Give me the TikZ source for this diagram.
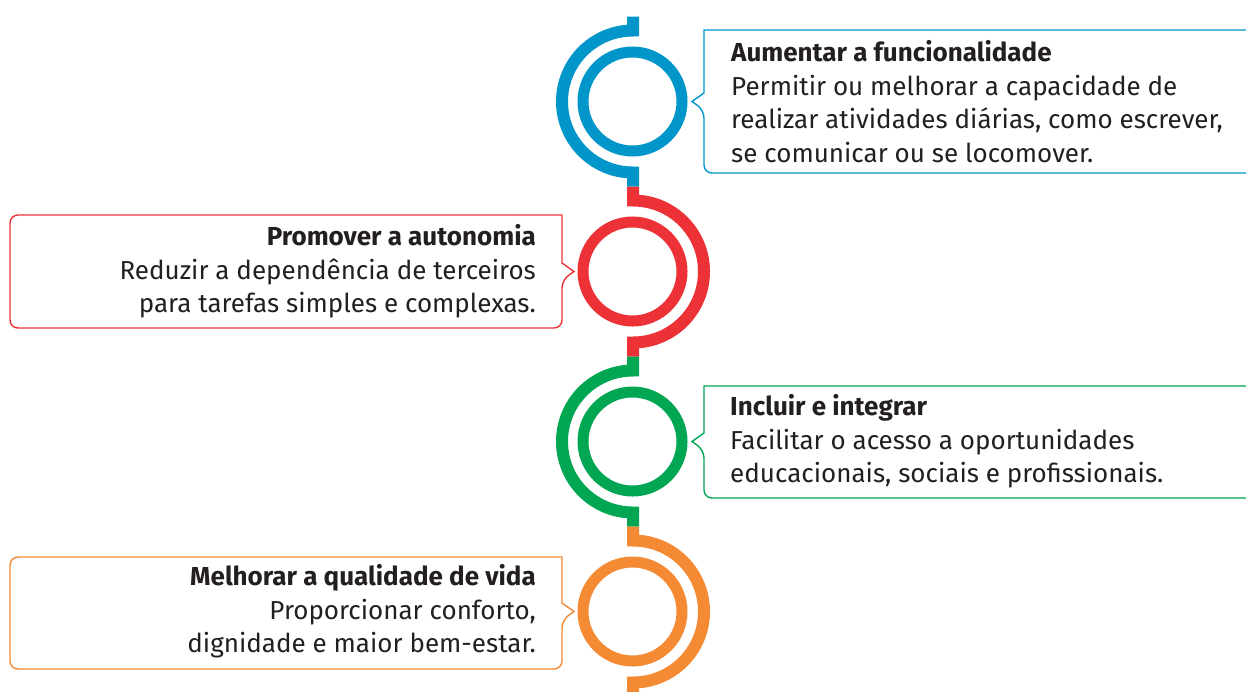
\documentclass[tikz,border=0pt]{standalone}
\usepackage{fontspec}
\setmainfont{Fira Sans}
\definecolor{azul}{HTML}{0096C9}
\definecolor{vermelho}{HTML}{ED3237}
\definecolor{verde}{HTML}{00A651}
\definecolor{laranja}{HTML}{F58A34}
\definecolor{texto}{HTML}{231F20}
\tikzset{
  ring/.style={line width=11pt},
  halfring/.style={line width=12pt},
  balloon/.style={line width=1.4pt},
  txt/.style={inner sep=0pt, text=texto, font=\fontsize{26}{33.5}\selectfont},
}
\begin{document}
\begin{tikzpicture}[x=1pt,y=-1pt]
\useasboundingbox (0,0) rectangle (1246,691);
% rings
\draw[ring,azul]     (632.5,101.5) circle (49.5) node (R1){};
\draw[ring,vermelho] (632.5,271.5) circle (49.5) node (R2){};
\draw[ring,verde]    (632.5,441.5) circle (49.5) node (R3){};
\draw[ring,laranja]  (632.5,611.5) circle (49.5) node (R4){};
% half rings with stems
\draw[halfring,azul]     (633,16.5)  -- (633,30.5)  arc[start angle=270, end angle=90,  radius=71] -- (633,186.5);
\draw[halfring,vermelho] (633,186.5) -- (633,200.5) arc[start angle=270, end angle=450, radius=71] -- (633,356.5);
\draw[halfring,verde]    (633,356.5) -- (633,370.5) arc[start angle=270, end angle=90,  radius=71] -- (633,526.5);
\draw[halfring,laranja]  (633,526.5) -- (633,540.5) arc[start angle=270, end angle=450, radius=71] -- (633,700);
% balloons
\draw[balloon,azul]     (692,101.5) -- (704,93)  -- (704,30)  [rounded corners=8pt] -- (1260,30)  -- (1260,173) -- (704,173) -- (704,110) [sharp corners] -- cycle;
\draw[balloon,vermelho] (574,271.5) -- (562,263) -- (562,215) [rounded corners=8pt] -- (10,215)   -- (10,328)   -- (562,328) -- (562,280) [sharp corners] -- cycle;
\draw[balloon,verde]    (692,441.5) -- (704,433) -- (704,386) [rounded corners=8pt] -- (1260,386) -- (1260,498) -- (704,498) -- (704,450) [sharp corners] -- cycle;
\draw[balloon,laranja]  (574,611.5) -- (562,603) -- (562,557) [rounded corners=8pt] -- (10,557)   -- (10,669)   -- (562,669) -- (562,620) [sharp corners] -- cycle;
% texts
\node[txt,align=left,anchor=west] (T1) at (731,101.5) {\textbf{Aumentar a funcionalidade}\\Permitir ou melhorar a capacidade de\\realizar atividades diárias, como escrever,\\se comunicar ou se locomover.};
\node[txt,align=right,anchor=east] (T2) at (536,271.5) {\textbf{Promover a autonomia}\\Reduzir a dependência de terceiros\\para tarefas simples e complexas.};
\node[txt,align=left,anchor=west] (T3) at (730,441.5) {\textbf{Incluir e integrar}\\Facilitar o acesso a oportunidades\\educacionais, sociais e profissionais.};
\node[txt,align=right,anchor=east] (T4) at (536,611.5) {\textbf{Melhorar a qualidade de vida}\\Proporcionar conforto,\\dignidade e maior bem-estar.};
\end{tikzpicture}
\end{document}
